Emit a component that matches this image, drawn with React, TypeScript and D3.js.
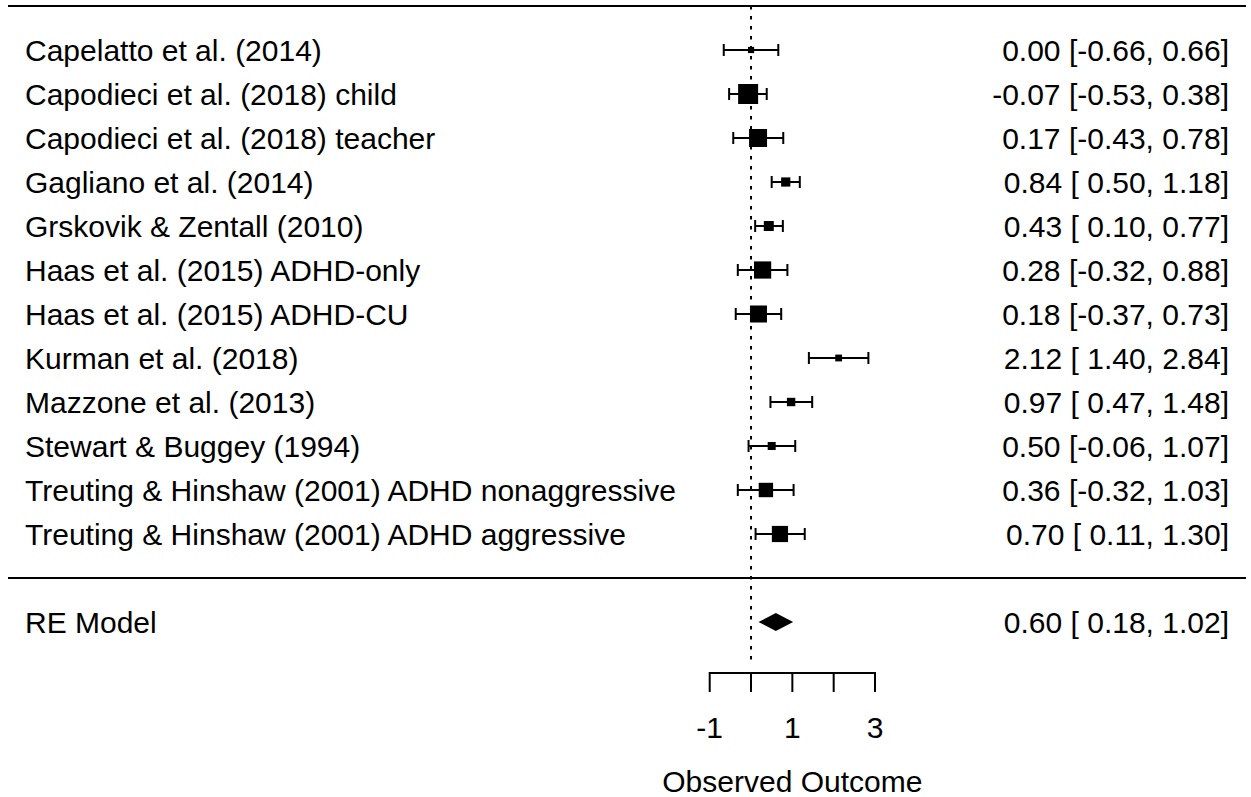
import React from "react";
import * as d3 from "d3";

// Study-level effect sizes with 95% confidence intervals
const studies = [
  "Capelatto et al. (2014)",
  "Capodieci et al. (2018) child",
  "Capodieci et al. (2018) teacher",
  "Gagliano et al. (2014)",
  "Grskovik & Zentall (2010)",
  "Haas et al. (2015) ADHD-only",
  "Haas et al. (2015) ADHD-CU",
  "Kurman et al. (2018)",
  "Mazzone et al. (2013)",
  "Stewart & Buggey (1994)",
  "Treuting & Hinshaw (2001) ADHD nonaggressive",
  "Treuting & Hinshaw (2001) ADHD aggressive",
];
const estimates = [0.0, -0.07, 0.17, 0.84, 0.43, 0.28, 0.18, 2.12, 0.97, 0.5, 0.36, 0.7];
const lower = [-0.66, -0.53, -0.43, 0.5, 0.1, -0.32, -0.37, 1.4, 0.47, -0.06, -0.32, 0.11];
const upper = [0.66, 0.38, 0.78, 1.18, 0.77, 0.88, 0.73, 2.84, 1.48, 1.07, 1.03, 1.3];
// Relative study weights (drive the square sizes)
const weights = [3.1, 10.0, 9.0, 4.6, 5.0, 8.6, 8.5, 3.4, 4.2, 4.0, 7.2, 8.1];

// Random-effects summary
const summaryLabel = "RE Model";
const summaryEstimate = 0.6;
const summaryLower = 0.18;
const summaryUpper = 1.02;

const axisTicks = [-1, 0, 1, 2, 3];
const axisTickLabels = [-1, 1, 3];
const xLabel = "Observed Outcome";

const W = 1251;
const H = 797;
const FONT = "'Liberation Sans', Arial, Helvetica, sans-serif";
const FS = 30;

function fmtColumn(vals: number[]): string[] {
  const s = vals.map((v) => v.toFixed(2));
  const w = d3.max(s, (t) => t.length) as number;
  return s.map((t) => t.padStart(w, " "));
}

export default function App() {
  const k = studies.length;
  const x = d3.scaleLinear().domain([-1, 3]).range([709.7, 875]);
  // rows: k..1 for studies, 0 separator, -1 summary, -2 axis region
  const y = d3.scaleLinear().domain([13, -2]).range([6, 666]);
  const box = d3.scaleLinear().domain([0, 10]).range([0, 20]);

  const allEst = [...estimates, summaryEstimate];
  const allLo = [...lower, summaryLower];
  const allHi = [...upper, summaryUpper];
  const fEst = fmtColumn(allEst);
  const fLo = fmtColumn(allLo);
  const fHi = fmtColumn(allHi);
  const ciText = allEst.map((_, i) => `${fEst[i]} [${fLo[i]}, ${fHi[i]}]`);

  const capH = 6;
  const axisY = 673;
  const sumY = y(-1);
  const diamond = d3.line()([
    [x(summaryLower), sumY],
    [x(summaryEstimate), sumY - 9],
    [x(summaryUpper), sumY],
    [x(summaryEstimate), sumY + 9],
  ]) + "Z";

  return (
    <svg
      width={W}
      height={H}
      style={{ position: "absolute", left: 0, top: 0, background: "#fff" }}
      fontFamily={FONT}
      fontSize={FS}
    >
      <rect width={W} height={H} fill="#fff" />
      {/* frame lines */}
      <line x1={8} x2={1246} y1={y(13)} y2={y(13)} stroke="#000" strokeWidth={2} />
      <line x1={8} x2={1246} y1={y(0)} y2={y(0)} stroke="#000" strokeWidth={2} />
      {/* reference line at zero */}
      <line
        x1={x(0)}
        x2={x(0)}
        y1={y(13)}
        y2={y(-2)}
        stroke="#000"
        strokeWidth={2}
        strokeDasharray="3.5,6.5"
      />
      {studies.map((name, i) => {
        const row = k - i;
        const cy = y(row);
        const s = box(weights[i]);
        return (
          <g key={name}>
            <text x={25} y={cy + 10.5} style={{ whiteSpace: "pre" }}>
              {name}
            </text>
            <line x1={x(lower[i])} x2={x(upper[i])} y1={cy} y2={cy} stroke="#000" strokeWidth={2} />
            <line x1={x(lower[i])} x2={x(lower[i])} y1={cy - capH} y2={cy + capH} stroke="#000" strokeWidth={2} />
            <line x1={x(upper[i])} x2={x(upper[i])} y1={cy - capH} y2={cy + capH} stroke="#000" strokeWidth={2} />
            <rect x={x(estimates[i]) - s / 2} y={cy - s / 2} width={s} height={s} fill="#000" />
            <text x={1229} y={cy + 10.5} textAnchor="end" style={{ whiteSpace: "pre" }}>
              {ciText[i]}
            </text>
          </g>
        );
      })}
      {/* summary */}
      <text x={25} y={sumY + 10.5}>{summaryLabel}</text>
      <path d={diamond} fill="#000" />
      <text x={1229} y={sumY + 10.5} textAnchor="end" style={{ whiteSpace: "pre" }}>
        {ciText[k]}
      </text>
      {/* x axis */}
      <line x1={x(-1)} x2={x(3)} y1={axisY} y2={axisY} stroke="#000" strokeWidth={2} />
      {axisTicks.map((t) => (
        <line key={t} x1={x(t)} x2={x(t)} y1={axisY - 1} y2={axisY + 19} stroke="#000" strokeWidth={2} />
      ))}
      {axisTickLabels.map((t) => (
        <text key={t} x={x(t)} y={738} textAnchor="middle">
          {String(t)}
        </text>
      ))}
      <text x={(x(-1) + x(3)) / 2} y={792} textAnchor="middle">
        {xLabel}
      </text>
    </svg>
  );
}
